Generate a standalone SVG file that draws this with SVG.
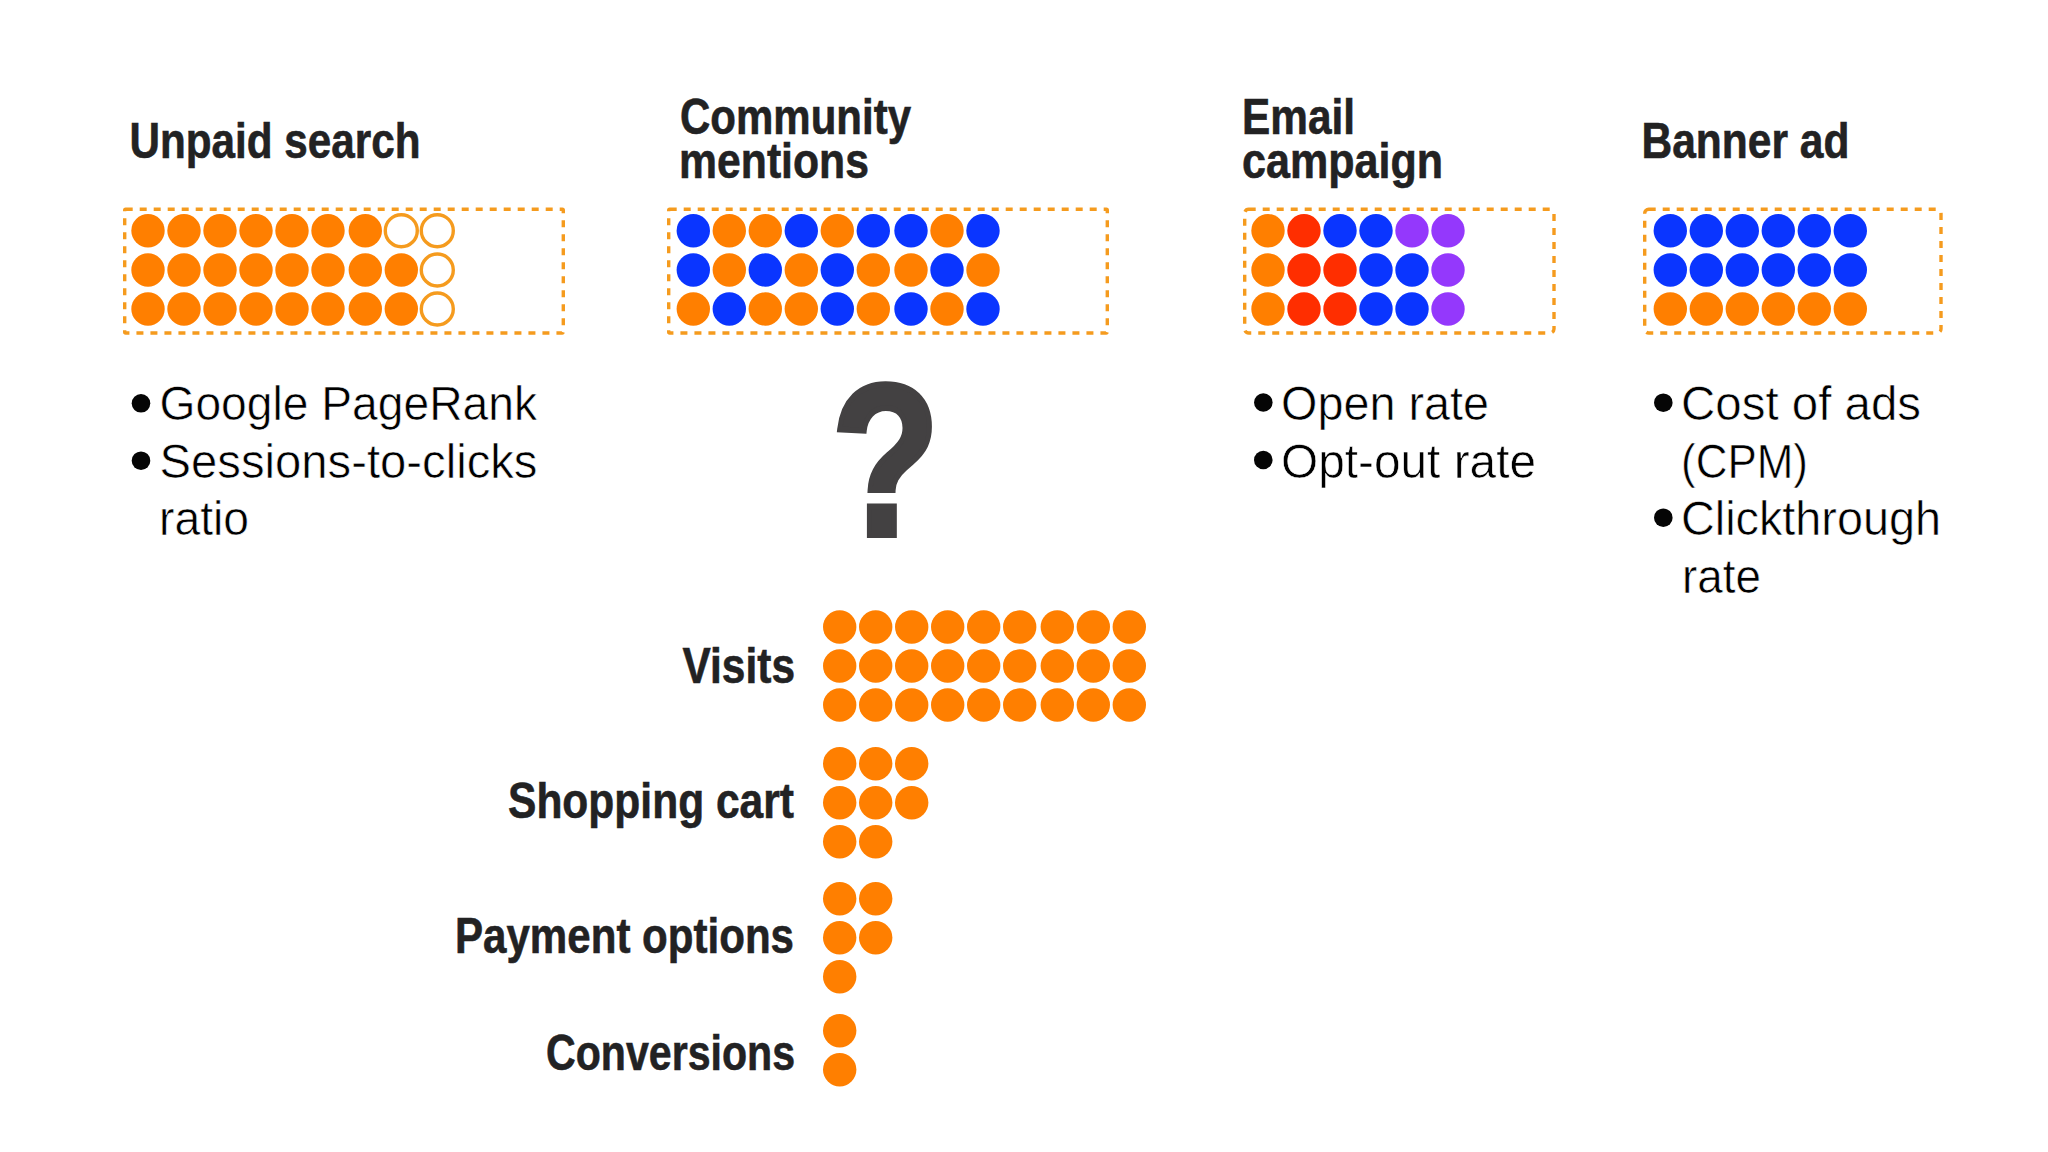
<svg xmlns="http://www.w3.org/2000/svg" width="2048" height="1152" viewBox="0 0 2048 1152">
<style>
.h{font-family:"Liberation Sans",Arial,sans-serif;font-weight:700;font-size:50px;fill:#222223;stroke:#222223;stroke-width:.6}
.b{font-family:"Liberation Sans",Arial,sans-serif;font-weight:400;font-size:48.5px;fill:#000;stroke:#fff;stroke-width:.6}
.box{fill:none;stroke:#f59b1e;stroke-width:3.4;stroke-dasharray:7 7}
.o{fill:#ff7f00}.u{fill:#0a35ff}.r{fill:#ff2e00}.p{fill:#9438fc}
.e{fill:#fff;stroke:#f59b1e;stroke-width:3.4}
.d{fill:#050505}
</style>
<defs>
<circle id="c" r="16.7"/>
<circle id="ce" r="16"/>
<circle id="bl" r="9.3"/>
</defs>
<rect width="2048" height="1152" fill="#fff"/>
<g id="unpaid-search">
<text class="h" x="129.5" y="157.7" textLength="291" lengthAdjust="spacingAndGlyphs">Unpaid search</text>
<rect class="box" x="124.7" y="209.3" width="438.6" height="123.7" rx="1"/>
<g class="o">
<use href="#c" x="148" y="230.7"/><use href="#c" x="184" y="230.7"/><use href="#c" x="220" y="230.7"/><use href="#c" x="256" y="230.7"/><use href="#c" x="292" y="230.7"/><use href="#c" x="328" y="230.7"/><use href="#c" x="365.3" y="230.7"/>
<use href="#c" x="148" y="270"/><use href="#c" x="184" y="270"/><use href="#c" x="220" y="270"/><use href="#c" x="256" y="270"/><use href="#c" x="292" y="270"/><use href="#c" x="328" y="270"/><use href="#c" x="365.3" y="270"/><use href="#c" x="401.3" y="270"/>
<use href="#c" x="148" y="309"/><use href="#c" x="184" y="309"/><use href="#c" x="220" y="309"/><use href="#c" x="256" y="309"/><use href="#c" x="292" y="309"/><use href="#c" x="328" y="309"/><use href="#c" x="365.3" y="309"/><use href="#c" x="401.3" y="309"/>
</g>
<g class="e">
<use href="#ce" x="401.3" y="230.7"/><use href="#ce" x="437.3" y="230.7"/><use href="#ce" x="437.3" y="270"/><use href="#ce" x="437.3" y="309"/>
</g>
<use class="d" href="#bl" x="141" y="403.3"/><use class="d" href="#bl" x="141" y="460.7"/>
<text class="b" x="159.5" y="420" textLength="377.5" lengthAdjust="spacingAndGlyphs">Google PageRank</text>
<text class="b" x="159.5" y="477.5" textLength="378" lengthAdjust="spacingAndGlyphs">Sessions-to-clicks</text>
<text class="b" x="159" y="535" textLength="90" lengthAdjust="spacingAndGlyphs">ratio</text>
</g>
<g id="community-mentions">
<text class="h" x="680" y="133.8" textLength="231" lengthAdjust="spacingAndGlyphs">Community</text>
<text class="h" x="679" y="177.7" textLength="190" lengthAdjust="spacingAndGlyphs">mentions</text>
<rect class="box" x="668.7" y="209.3" width="438.6" height="123.7" rx="1"/>
<g class="u">
<use href="#c" x="693.3" y="230.7"/><use href="#c" x="801.3" y="230.7"/><use href="#c" x="873.3" y="230.7"/><use href="#c" x="911" y="230.7"/><use href="#c" x="983" y="230.7"/>
<use href="#c" x="693.3" y="270"/><use href="#c" x="765.3" y="270"/><use href="#c" x="837.3" y="270"/><use href="#c" x="947" y="270"/>
<use href="#c" x="729.3" y="309"/><use href="#c" x="837.3" y="309"/><use href="#c" x="911" y="309"/><use href="#c" x="983" y="309"/>
</g>
<g class="o">
<use href="#c" x="729.3" y="230.7"/><use href="#c" x="765.3" y="230.7"/><use href="#c" x="837.3" y="230.7"/><use href="#c" x="947" y="230.7"/>
<use href="#c" x="729.3" y="270"/><use href="#c" x="801.3" y="270"/><use href="#c" x="873.3" y="270"/><use href="#c" x="911" y="270"/><use href="#c" x="983" y="270"/>
<use href="#c" x="693.3" y="309"/><use href="#c" x="765.3" y="309"/><use href="#c" x="801.3" y="309"/><use href="#c" x="873.3" y="309"/><use href="#c" x="947" y="309"/>
</g>
</g>
<g id="question">
<text x="0" y="0" transform="translate(831.5 535) scale(0.82 1)" style="font-family:'Liberation Sans',sans-serif;font-weight:700;font-size:216px;fill:#434142;stroke:#434142;stroke-width:6">?</text>
</g>
<g id="email-campaign">
<text class="h" x="1242" y="133.8" textLength="113" lengthAdjust="spacingAndGlyphs">Email</text>
<text class="h" x="1242" y="177.7" textLength="201" lengthAdjust="spacingAndGlyphs">campaign</text>
<rect class="box" x="1244.7" y="209.3" width="309.3" height="123.7" rx="4"/>
<g class="o"><use href="#c" x="1268" y="230.7"/><use href="#c" x="1268" y="270"/><use href="#c" x="1268" y="309"/></g>
<g class="r"><use href="#c" x="1304" y="230.7"/><use href="#c" x="1304" y="270"/><use href="#c" x="1340" y="270"/><use href="#c" x="1304" y="309"/><use href="#c" x="1340" y="309"/></g>
<g class="u"><use href="#c" x="1340" y="230.7"/><use href="#c" x="1376" y="230.7"/><use href="#c" x="1376" y="270"/><use href="#c" x="1412" y="270"/><use href="#c" x="1376" y="309"/><use href="#c" x="1412" y="309"/></g>
<g class="p"><use href="#c" x="1412" y="230.7"/><use href="#c" x="1448" y="230.7"/><use href="#c" x="1448" y="270"/><use href="#c" x="1448" y="309"/></g>
<use class="d" href="#bl" x="1263.3" y="402.5"/><use class="d" href="#bl" x="1263.3" y="460"/>
<text class="b" x="1281" y="420" textLength="208" lengthAdjust="spacingAndGlyphs">Open rate</text>
<text class="b" x="1281" y="477.5" textLength="255" lengthAdjust="spacingAndGlyphs">Opt-out rate</text>
</g>
<g id="banner-ad">
<text class="h" x="1641.5" y="157.7" textLength="208" lengthAdjust="spacingAndGlyphs">Banner ad</text>
<rect class="box" x="1644.7" y="209.3" width="296.3" height="123.7" rx="4"/>
<g class="u">
<use href="#c" x="1670.3" y="230.7"/><use href="#c" x="1706.3" y="230.7"/><use href="#c" x="1742.3" y="230.7"/><use href="#c" x="1778.3" y="230.7"/><use href="#c" x="1814.3" y="230.7"/><use href="#c" x="1850.3" y="230.7"/>
<use href="#c" x="1670.3" y="270"/><use href="#c" x="1706.3" y="270"/><use href="#c" x="1742.3" y="270"/><use href="#c" x="1778.3" y="270"/><use href="#c" x="1814.3" y="270"/><use href="#c" x="1850.3" y="270"/>
</g>
<g class="o">
<use href="#c" x="1670.3" y="309"/><use href="#c" x="1706.3" y="309"/><use href="#c" x="1742.3" y="309"/><use href="#c" x="1778.3" y="309"/><use href="#c" x="1814.3" y="309"/><use href="#c" x="1850.3" y="309"/>
</g>
<use class="d" href="#bl" x="1663.3" y="402.7"/><use class="d" href="#bl" x="1663.3" y="517.7"/>
<text class="b" x="1681" y="420" textLength="240" lengthAdjust="spacingAndGlyphs">Cost of ads</text>
<text class="b" x="1681" y="477.5" textLength="127" lengthAdjust="spacingAndGlyphs">(CPM)</text>
<text class="b" x="1681" y="535" textLength="260" lengthAdjust="spacingAndGlyphs">Clickthrough</text>
<text class="b" x="1682" y="592.5" textLength="79" lengthAdjust="spacingAndGlyphs">rate</text>
</g>
<g id="visits">
<text class="h" x="682.5" y="683" textLength="112.5" lengthAdjust="spacingAndGlyphs">Visits</text>
<g class="o">
<use href="#c" x="839.7" y="627"/><use href="#c" x="875.7" y="627"/><use href="#c" x="911.7" y="627"/><use href="#c" x="947.7" y="627"/><use href="#c" x="983.7" y="627"/><use href="#c" x="1019.7" y="627"/><use href="#c" x="1057.3" y="627"/><use href="#c" x="1093.3" y="627"/><use href="#c" x="1129.3" y="627"/>
<use href="#c" x="839.7" y="666"/><use href="#c" x="875.7" y="666"/><use href="#c" x="911.7" y="666"/><use href="#c" x="947.7" y="666"/><use href="#c" x="983.7" y="666"/><use href="#c" x="1019.7" y="666"/><use href="#c" x="1057.3" y="666"/><use href="#c" x="1093.3" y="666"/><use href="#c" x="1129.3" y="666"/>
<use href="#c" x="839.7" y="705"/><use href="#c" x="875.7" y="705"/><use href="#c" x="911.7" y="705"/><use href="#c" x="947.7" y="705"/><use href="#c" x="983.7" y="705"/><use href="#c" x="1019.7" y="705"/><use href="#c" x="1057.3" y="705"/><use href="#c" x="1093.3" y="705"/><use href="#c" x="1129.3" y="705"/>
</g>
</g>
<g id="shopping-cart">
<text class="h" x="508" y="818.3" textLength="286" lengthAdjust="spacingAndGlyphs">Shopping cart</text>
<g class="o">
<use href="#c" x="839.7" y="763.7"/><use href="#c" x="875.7" y="763.7"/><use href="#c" x="911.7" y="763.7"/>
<use href="#c" x="839.7" y="802.7"/><use href="#c" x="875.7" y="802.7"/><use href="#c" x="911.7" y="802.7"/>
<use href="#c" x="839.7" y="841.7"/><use href="#c" x="875.7" y="841.7"/>
</g>
</g>
<g id="payment-options">
<text class="h" x="455" y="953.3" textLength="339" lengthAdjust="spacingAndGlyphs">Payment options</text>
<g class="o">
<use href="#c" x="839.7" y="898.7"/><use href="#c" x="875.7" y="898.7"/>
<use href="#c" x="839.7" y="937.7"/><use href="#c" x="875.7" y="937.7"/>
<use href="#c" x="839.7" y="976.7"/>
</g>
</g>
<g id="conversions">
<text class="h" x="546" y="1070" textLength="249" lengthAdjust="spacingAndGlyphs">Conversions</text>
<g class="o">
<use href="#c" x="839.7" y="1030.7"/><use href="#c" x="839.7" y="1069.7"/>
</g>
</g>
</svg>
